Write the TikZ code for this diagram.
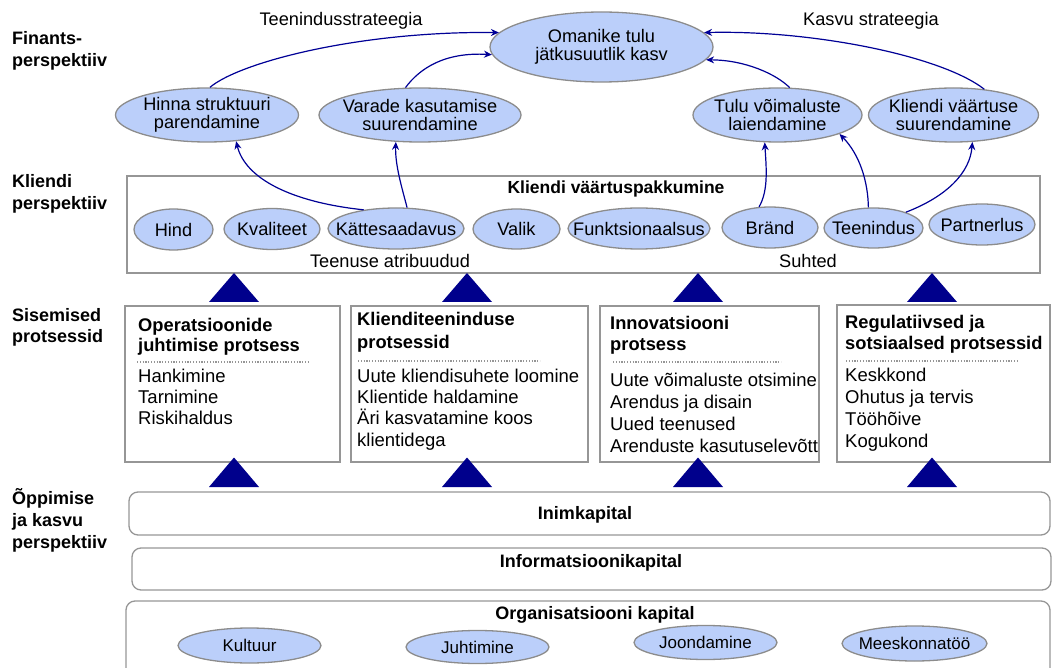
\documentclass[tikz,border=0pt]{standalone}
\usepackage{fontspec}
\setmainfont{Liberation Sans}
\usetikzlibrary{arrows.meta,shapes.geometric}
\definecolor{ellfill}{RGB}{187,207,250}
\definecolor{ellline}{RGB}{140,140,140}
\definecolor{arr}{RGB}{0,0,150}
\definecolor{tri}{RGB}{0,0,140}
\definecolor{boxline}{RGB}{150,150,150}
\begin{document}
\begin{tikzpicture}[x=1pt,y=-1pt,
  ell/.style={ellipse,draw=ellline,fill=ellfill,line width=1.3pt,inner sep=0pt},
  etext/.style={align=center,inner sep=0pt,font=\fontsize{18.2}{18.5}\selectfont},
  btext/.style={align=center,inner sep=0pt,font=\fontsize{17}{18}\selectfont},
  lbl/.style={anchor=base west,inner sep=0pt,font=\bfseries\fontsize{18}{21}\selectfont},
  ptitle/.style={anchor=base west,inner sep=0pt,font=\bfseries\fontsize{18.3}{21}\selectfont},
  pitem/.style={anchor=base west,inner sep=0pt,font=\fontsize{18.5}{21}\selectfont},
  plain/.style={inner sep=0pt,font=\fontsize{18.2}{21}\selectfont},
  captitle/.style={inner sep=0pt,font=\bfseries\fontsize{18}{20}\selectfont},
  procbox/.style={draw=boxline,line width=1.3pt,fill=white,inner sep=0pt},
  capbox/.style={draw=boxline,line width=1.3pt,rounded corners=9pt,inner sep=0pt},
  dotline/.style={draw=boxline,line width=1.2pt,dash pattern=on 1.2pt off 1.6pt},
  con/.style={draw=arr,line width=1.2pt,-{Stealth[length=8pt,width=7pt]}},
  tribox/.style={fill=tri}
]
\clip (0,0) rectangle (1052,668);

% left labels
\node[lbl] (l1a) at (12,45) {Finants-};
\node[lbl] (l1b) at (12,67) {perspektiiv};
\node[lbl] (l2a) at (12,188) {Kliendi};
\node[lbl] (l2b) at (12,210) {perspektiiv};
\node[lbl] (l3a) at (12,321) {Sisemised};
\node[lbl] (l3b) at (12,342) {protsessid};
\node[lbl] (l4a) at (12,504) {Õppimise};
\node[lbl] (l4b) at (12,526) {ja kasvu};
\node[lbl] (l4c) at (12,548) {perspektiiv};

% top labels
\node[plain] (ts) at (341,21) {Teenindusstrateegia};
\node[plain] (ks) at (871,21) {Kasvu strateegia};

% financial ellipses
\node[ell,minimum width=223,minimum height=70] (om) at (601.5,47) {};
\node[etext] (omt) at (om) {Omanike tulu\\jätkusuutlik kasv};
\node[ell,minimum width=183,minimum height=54] (hin) at (207,115) {};
\node[etext] (hint) at (hin) {Hinna struktuuri\\parendamine};
\node[ell,minimum width=202,minimum height=54] (var) at (420,115) {};
\node[etext] (vart) at (var) {Varade kasutamise\\suurendamine};
\node[ell,minimum width=169,minimum height=54] (tul) at (777.5,115) {};
\node[etext] (tult) at (tul) {Tulu võimaluste\\laiendamine};
\node[ell,minimum width=170,minimum height=54] (kv) at (953.5,115) {};
\node[etext] (kvt) at (kv) {Kliendi väärtuse\\suurendamine};

% customer box
\node[procbox,minimum width=913,minimum height=97] (kbox) at (583.5,224.5) {};
\node[inner sep=0pt,font=\bfseries\fontsize{17.5}{20}\selectfont] (ktitle) at (616,189) {Kliendi väärtuspakkumine};
\node[plain] (ta) at (390,261) {Teenuse atribuudud};
\node[plain] (su) at (808,261) {Suhted};

\node[ell,minimum width=79,minimum height=41] (hind) at (173.5,229.5) {};
\node[etext] (hindt) at (hind) {Hind};
\node[ell,minimum width=96,minimum height=41] (kval) at (272,229) {};
\node[etext] (kvalt) at (kval) {Kvaliteet};
\node[ell,minimum width=136,minimum height=41] (kat) at (396,228.5) {};
\node[etext] (katt) at (kat) {Kättesaadavus};
\node[ell,minimum width=87,minimum height=40] (val) at (516.5,229) {};
\node[etext] (valt) at (val) {Valik};
\node[ell,minimum width=142,minimum height=41] (fun) at (639,228.5) {};
\node[etext] (funt) at (fun) {Funktsionaalsus};
\node[ell,minimum width=96,minimum height=41] (bra) at (770,227.5) {};
\node[etext] (brat) at (bra) {Bränd};
\node[ell,minimum width=99,minimum height=40] (tee) at (873.5,228) {};
\node[etext] (teet) at (tee) {Teenindus};
\node[ell,minimum width=106,minimum height=41] (par) at (982,224.5) {};
\node[etext] (part) at (par) {Partnerlus};

% connectors
\draw[con] (hin.84) .. controls (240,62) and (360,31) .. (om.172);
\draw[con] (var.118) .. controls (420,68) and (445,52) .. (om.184);
\draw[con] (tul.66) .. controls (776,74) and (745,60) .. (om.353);
\draw[con] (kv.40) .. controls (940,55) and (810,30) .. (om.8);
\draw[con] (kat.150) .. controls (290,202) and (245,178) .. (hin.318);
\draw[con] (kat.62) .. controls (402,188) and (395,165) .. (var.228);
\draw[con] (bra.118) .. controls (769,190) and (766,165) .. (tul.245);
\draw[con] (tee.104) .. controls (868,182) and (860,155) .. (tul.343);
\draw[con] (tee.26) .. controls (948,196) and (970,172) .. (kv.305);

% triangles
\foreach \cx in {234,467,698,932} {
  \fill[tribox] (\cx,273) -- (\cx+25,302) -- (\cx-25,302) -- cycle;
}

% process boxes
\node[procbox,minimum width=215,minimum height=156] (p1) at (232.5,384) {};
\node[procbox,minimum width=237,minimum height=156] (p2) at (469.5,384) {};
\node[procbox,minimum width=219,minimum height=156] (p3) at (709.5,384) {};
\node[procbox,minimum width=213,minimum height=157] (p4) at (943.5,383.5) {};

\foreach \cx in {234,467,698,932} {
  \fill[tribox] (\cx,457.5) -- (\cx+25,487) -- (\cx-25,487) -- cycle;
}

\node[ptitle] (p1t1) at (138,331) {Operatsioonide};
\node[ptitle] (p1t2) at (138,352) {juhtimise protsess};
\draw[dotline] (137,362) -- (308,362);
\node[pitem] (p1i1) at (138,382) {Hankimine};
\node[pitem] (p1i2) at (138,403) {Tarnimine};
\node[pitem] (p1i3) at (138,424) {Riskihaldus};

\node[ptitle] (p2t1) at (357,326) {Klienditeeninduse};
\node[ptitle] (p2t2) at (357,348) {protsessid};
\draw[dotline] (358,361) -- (540,361);
\node[pitem] (p2i1) at (357,382) {Uute kliendisuhete loomine};
\node[pitem] (p2i2) at (357,403) {Klientide haldamine};
\node[pitem] (p2i3) at (357,424) {Äri kasvatamine koos};
\node[pitem] (p2i4) at (357,446) {klientidega};

\node[ptitle] (p3t1) at (610,329) {Innovatsiooni};
\node[ptitle] (p3t2) at (610,350) {protsess};
\draw[dotline] (613,362) -- (781,362);
\node[pitem] (p3i1) at (610,386) {Uute võimaluste otsimine};
\node[pitem] (p3i2) at (610,408) {Arendus ja disain};
\node[pitem] (p3i3) at (610,430) {Uued teenused};
\node[pitem] (p3i4) at (610,452) {Arenduste kasutuselevõtt};

\node[ptitle] (p4t1) at (845,328) {Regulatiivsed ja};
\node[ptitle] (p4t2) at (845,349) {sotsiaalsed protsessid};
\draw[dotline] (846,361) -- (1018,361);
\node[pitem] (p4i1) at (845,381) {Keskkond};
\node[pitem] (p4i2) at (845,403) {Ohutus ja tervis};
\node[pitem] (p4i3) at (845,425) {Tööhõive};
\node[pitem] (p4i4) at (845,447) {Kogukond};

% capital boxes
\node[capbox,minimum width=921,minimum height=43] (inim) at (589.5,513.5) {};
\node[captitle] (inimt) at (585,515) {Inimkapital};
\node[capbox,minimum width=919,minimum height=42] (info) at (591.5,569) {};
\node[captitle] (infot) at (591,563) {Informatsioonikapital};
\node[capbox,minimum width=924,minimum height=89] (org) at (588,645.5) {};
\node[captitle] (orgt) at (595,615) {Organisatsiooni kapital};

\node[ell,minimum width=143,minimum height=35] (kul) at (249.5,645.5) {};
\node[btext] (kult) at (kul) {Kultuur};
\node[ell,minimum width=143,minimum height=33] (juh) at (477.5,647) {};
\node[btext] (juht) at (juh) {Juhtimine};
\node[ell,minimum width=143,minimum height=34] (joo) at (705.5,642.5) {};
\node[btext] (joot) at (joo) {Joondamine};
\node[ell,minimum width=145,minimum height=35] (mee) at (914.5,643.5) {};
\node[btext] (meet) at (mee) {Meeskonnatöö};
\end{tikzpicture}
\end{document}
